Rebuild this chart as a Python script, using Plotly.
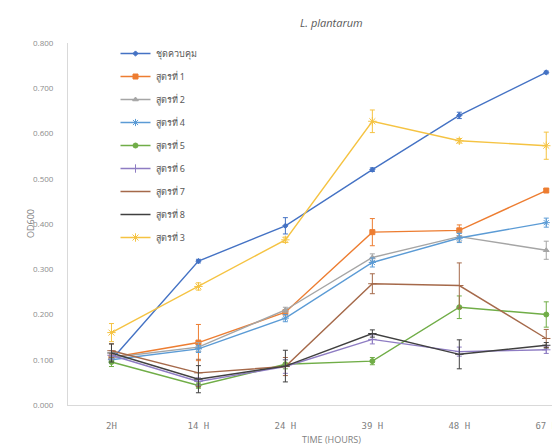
import plotly.graph_objects as go

times = ["2H", "14 H", "24 H", "39 H", "48 H", "67 H"]

series_names = ["ชุดควบคุม", "สูตรที่ 1", "สูตรที่ 2", "สูตรที่ 4", "สูตรที่ 5",
                "สูตรที่ 6", "สูตรที่ 7", "สูตรที่ 8", "สูตรที่ 3"]

control = [0.100, 0.318, 0.396, 0.520, 0.640, 0.735]
f1 = [0.105, 0.138, 0.205, 0.382, 0.386, 0.474]
f2 = [0.105, 0.128, 0.210, 0.326, 0.372, 0.342]
f4 = [0.100, 0.124, 0.192, 0.315, 0.369, 0.403]
f5 = [0.095, 0.043, 0.090, 0.097, 0.216, 0.200]
f6 = [0.110, 0.052, 0.085, 0.145, 0.118, 0.122]
f7 = [0.120, 0.071, 0.085, 0.268, 0.264, 0.147]
f8 = [0.115, 0.057, 0.086, 0.158, 0.112, 0.132]
f3 = [0.160, 0.262, 0.365, 0.627, 0.584, 0.573]

control_err = [0.006, 0.004, 0.018, 0.004, 0.007, 0.003]
f1_err = [0.008, 0.040, 0.006, 0.030, 0.012, 0.004]
f2_err = [0.008, 0.010, 0.006, 0.008, 0.010, 0.020]
f4_err = [0.008, 0.008, 0.008, 0.010, 0.010, 0.010]
f5_err = [0.010, 0.006, 0.010, 0.008, 0.025, 0.028]
f6_err = [0.010, 0.008, 0.015, 0.010, 0.010, 0.008]
f7_err = [0.015, 0.030, 0.020, 0.022, 0.050, 0.020]
f8_err = [0.020, 0.030, 0.035, 0.008, 0.032, 0.006]
f3_err = [0.020, 0.008, 0.006, 0.025, 0.005, 0.030]

values = [control, f1, f2, f4, f5, f6, f7, f8, f3]
errors = [control_err, f1_err, f2_err, f4_err, f5_err, f6_err, f7_err, f8_err, f3_err]
colors = ["#4472C4", "#ED7D31", "#A5A5A5", "#5B9BD5", "#70AD47",
          "#8E7CC3", "#A5694A", "#404040", "#F5C342"]
symbols = ["diamond", "square", "triangle-up", "asterisk-open", "circle",
           "cross-thin-open", "line-ew-open", "line-ew-open", "asterisk-open"]
sizes = [4, 5, 5, 6, 5, 6, 6, 6, 7]

fig = go.Figure()
for i, (name, ys, es) in enumerate(zip(series_names, values, errors)):
    fig.add_trace(go.Scatter(
        x=times, y=ys, name=name, mode="lines+markers",
        legendgroup=f"g{i}",
        line=dict(color=colors[i], width=1.4),
        marker=dict(symbol=symbols[i], size=sizes[i], color=colors[i],
                    line=dict(color=colors[i], width=1)),
        error_y=dict(type="data", array=es, visible=True, color=colors[i],
                     thickness=1, width=2.5),
    ))

fig.update_layout(
    width=560, height=448,
    margin=dict(l=60, r=0, t=35, b=51),
    paper_bgcolor="white", plot_bgcolor="white",
    font=dict(family="Noto Sans, Open Sans, sans-serif", color="#7F7F7F", size=9),
    showlegend=True,
    legend=dict(x=0.095, y=1.011, xanchor="left", yanchor="top",
                bgcolor="rgba(0,0,0,0)", font=dict(size=9, color="#595959"),
                traceorder="grouped", tracegroupgap=4, itemwidth=30),
    xaxis=dict(type="category", range=[-0.5, 5.25], showgrid=False,
               showline=True, linecolor="#D9D9D9", linewidth=1,
               ticks="", tickfont=dict(family="DejaVu Sans Mono, monospace", size=9, color="#7F7F7F"),
               ticklabelstandoff=12, zeroline=False),
    yaxis=dict(range=[0, 0.8], dtick=0.1, tickformat=".3f", showgrid=False,
               showline=True, linecolor="#D9D9D9", linewidth=1,
               ticks="", ticklabelstandoff=12, zeroline=False,
               tickfont=dict(family="Open Sans, sans-serif", size=8, color="#8C8C8C")),
    annotations=[
        dict(text="<i>L. plantarum</i>", x=(323 - 60) / 500, y=1 + (35 - 15) / 362,
             xref="paper", yref="paper", xanchor="center", yanchor="middle",
             showarrow=False, font=dict(family="Open Sans, sans-serif", size=11, color="#595959")),
        dict(text="TIME (HOURS)", x=(323 - 60) / 500, y=-0.095, xref="paper", yref="paper",
             xanchor="center", yanchor="middle", showarrow=False,
             font=dict(family="Open Sans, sans-serif", size=9, color="#7F7F7F")),
        dict(text="OD600", x=-0.076, y=0.5, xref="paper", yref="paper", textangle=-90,
             xanchor="center", yanchor="middle", showarrow=False,
             font=dict(family="Open Sans, sans-serif", size=9, color="#7F7F7F")),
    ],
)
fig.write_html("out.html")
